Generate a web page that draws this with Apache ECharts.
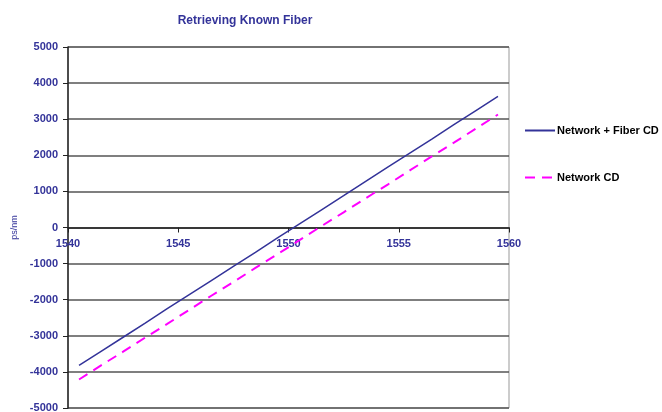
<!DOCTYPE html>
<html><head><meta charset="utf-8">
<script src="https://cdn.jsdelivr.net/npm/echarts@6/dist/echarts.min.js"></script>
<style>html,body{margin:0;padding:0;background:#fff}#c{width:662px;height:412px}</style>
</head><body><div id="c"></div>
<script>
var title = "Retrieving Known Fiber";
var seriesNames = ["Network + Fiber CD", "Network CD"];
var wavelengths = [1540.5,1541.5,1542.5,1543.5,1544.5,1545.5,1546.5,1547.5,1548.5,1549.5,1550.5,1551.5,1552.5,1553.5,1554.5,1555.5,1556.5,1557.5,1558.5,1559.5];
var networkFiberCD = [-3820,-3430,-3040,-2650,-2250,-1860,-1470,-1080,-690,-290,100,490,880,1280,1670,2060,2450,2850,3240,3630];
var networkCD = [-4210,-3820,-3440,-3050,-2670,-2280,-1890,-1510,-1120,-740,-350,40,420,810,1190,1580,1970,2350,2740,3130];
var yAxisName = "ps/nm";

function pairs(xs, ys){ return xs.map(function(x,i){ return [x, ys[i]]; }); }
var labelColor = '#333399';
var plain = function(v){ return String(v); };
var chart = echarts.init(document.getElementById('c'));
chart.setOption({
  animation: false,
  title: { text: title, left: 240, textAlign: 'center', top: 10,
    textStyle: { color: '#333399', fontSize: 12, fontWeight: 'bold', fontFamily: 'Liberation Sans' } },
  grid: { left: 68, right: 153, top: 47, bottom: 4, show: true, borderColor: '#999', borderWidth: 1,
    containLabel: false, outerBoundsMode: 'none' },
  legend: { orient: 'vertical', left: 524, top: 125, padding: 0, itemGap: 36, itemWidth: 30, itemHeight: 10,
    itemStyle: { opacity: 0 },
    textStyle: { color: '#000', fontSize: 11, fontWeight: 'bold', fontFamily: 'Liberation Sans', padding: [0,0,0,-3] },
    data: [{ name: seriesNames[0] }, { name: seriesNames[1] }] },
  xAxis: { type: 'value', min: 1540, max: 1560, interval: 5, position: 'bottom', offset: -180.5,
    axisLine: { onZero: false, lineStyle: { color: '#222', width: 1.5 } },
    axisTick: { show: true, inside: false, length: 5, lineStyle: { color: '#222' } },
    axisLabel: { color: labelColor, fontSize: 11, fontWeight: 'bold', fontFamily: 'Liberation Sans', margin: 11, formatter: plain },
    splitLine: { show: false } },
  yAxis: { type: 'value', min: -5000, max: 5000, interval: 1000,
    name: yAxisName, nameLocation: 'middle', nameGap: 49, nameRotate: 90,
    nameTextStyle: { color: labelColor, fontSize: 9, fontFamily: 'Liberation Sans' },
    axisLine: { show: true, lineStyle: { color: '#222', width: 1.5 } },
    axisTick: { show: true, length: 5, lineStyle: { color: '#222' } },
    axisLabel: { color: labelColor, fontSize: 11, fontWeight: 'bold', fontFamily: 'Liberation Sans', margin: 10, formatter: plain },
    splitLine: { show: true, lineStyle: { color: '#555', width: 1.5 } } },
  series: [
    { name: seriesNames[0], type: 'line', symbol: 'none', data: pairs(wavelengths, networkFiberCD),
      lineStyle: { color: '#333399', width: 1.5 }, itemStyle: { color: '#333399' } },
    { name: seriesNames[1], type: 'line', symbol: 'none', data: pairs(wavelengths, networkCD),
      lineStyle: { color: '#ff00ff', width: 2, type: [10, 7] }, itemStyle: { color: '#ff00ff' } }
  ]
});
</script></body></html>
